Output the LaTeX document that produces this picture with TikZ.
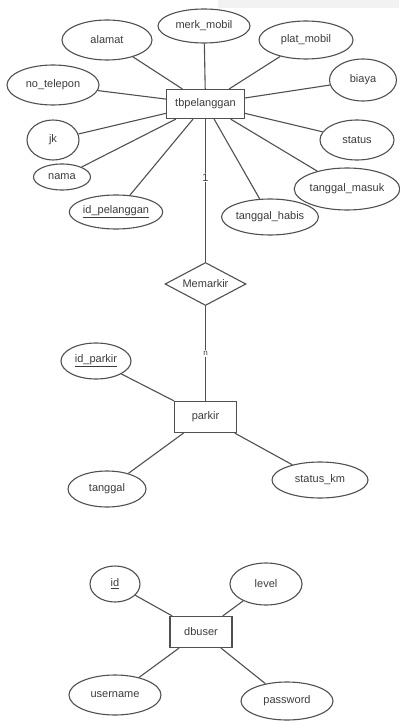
\documentclass[tikz,border=0pt]{standalone}
\usepackage{fontspec}
\setmainfont{Liberation Sans}
\definecolor{erline}{RGB}{80,80,80}
\definecolor{ertext}{RGB}{60,60,60}
\definecolor{bgpatch}{RGB}{242,242,242}
\usetikzlibrary{shapes.geometric}
\tikzset{
	entity/.style={rectangle, draw=erline, line width=1.2pt, fill=white, minimum width=62pt, minimum height=31pt, inner sep=2pt, text=ertext, font=\fontsize{11}{13}\selectfont},
	attr/.style={ellipse, draw=erline, line width=1.1pt, fill=white, inner sep=0pt, text=ertext, font=\fontsize{11}{13}\selectfont},
	rel/.style={diamond, draw=erline, line width=1.1pt, fill=white, aspect=1.9, inner sep=0pt, minimum width=81pt, minimum height=43pt, text=ertext, font=\fontsize{11}{13}\selectfont},
	link/.style={draw=erline, line width=1.1pt},
	card/.style={fill=white, inner sep=1pt, text=ertext, font=\fontsize{11}{12}\selectfont},
}

\begin{document}
\begin{tikzpicture}[x=1pt, y=-1pt]
		\useasboundingbox (0,0) rectangle (399,722);
		\fill[bgpatch] (218,0) rectangle (399,8);
		% tbpelanggan
		\node[entity, minimum width=78pt, minimum height=29pt] (tbpelanggan) at (205.5,104) {tbpelanggan};
		\node[attr, minimum width=90pt, minimum height=40pt] (alamat) at (107,40) {alamat};
		\node[attr, minimum width=92pt, minimum height=34pt] (merk) at (204,26) {merk\_mobil};
		\node[attr, minimum width=94pt, minimum height=38pt] (plat) at (306,40) {plat\_mobil};
		\node[attr, minimum width=67pt, minimum height=42pt] (biaya) at (363,80) {biaya};
		\node[attr, minimum width=92pt, minimum height=40pt] (telepon) at (53,85) {no\_telepon};
		\node[attr, minimum width=52pt, minimum height=40pt] (jk) at (53,140) {jk};
		\node[attr, minimum width=57pt, minimum height=26pt] (nama) at (62,177) {nama};
		\node[attr, minimum width=86pt, minimum height=34pt] (idpel) at (116,212) {\underline{id\_pelanggan}};
		\node[attr, minimum width=94pt, minimum height=36pt] (habis) at (270,217) {tanggal\_habis};
		\node[attr, minimum width=88pt, minimum height=42pt] (masuk) at (347,189) {tanggal\_masuk};
		\node[attr, minimum width=74pt, minimum height=40pt] (status) at (357,140) {status};
		\draw[link] (alamat) -- (tbpelanggan);
		\draw[link] (merk) -- (tbpelanggan);
		\draw[link] (plat) -- (tbpelanggan);
		\draw[link] (biaya) -- (tbpelanggan);
		\draw[link] (telepon) -- (tbpelanggan);
		\draw[link] (jk) -- (tbpelanggan);
		\draw[link] (nama) -- (tbpelanggan);
		\draw[link] (idpel) -- (tbpelanggan);
		\draw[link] (habis) -- (tbpelanggan);
		\draw[link] (masuk) -- (tbpelanggan);
		\draw[link] (status) -- (tbpelanggan);
		% relasi
		\node[rel] (memarkir) at (205.5,284) {Memarkir};
		\node[entity] (parkir) at (205.5,417) {parkir};
		\draw[link] (tbpelanggan) -- node[card, pos=0.41] {1} (memarkir);
		\draw[link] (memarkir) -- node[card, pos=0.5, font=\fontsize{8}{9}\selectfont] {n} (parkir);
		% parkir
		\node[attr, minimum width=70pt, minimum height=36pt] (idparkir) at (96,361) {\underline{id\_parkir}};
		\node[attr, minimum width=78pt, minimum height=36pt] (tanggal) at (107,489) {tanggal};
		\node[attr, minimum width=96pt, minimum height=36pt] (statuskm) at (320,480) {status\_km};
		\draw[link] (idparkir) -- (parkir);
		\draw[link] (tanggal) -- (parkir);
		\draw[link] (statuskm) -- (parkir);
		% dbuser
		\node[entity] (dbuser) at (201,632) {dbuser};
		\node[attr, minimum width=50pt, minimum height=36pt] (id) at (115,584) {\underline{id}};
		\node[attr, minimum width=72pt, minimum height=42pt] (level) at (266,584) {level};
		\node[attr, minimum width=92pt, minimum height=40pt] (username) at (115,695) {username};
		\node[attr, minimum width=92pt, minimum height=38pt] (password) at (287,701) {password};
		\draw[link] (id) -- (dbuser);
		\draw[link] (level) -- (dbuser);
		\draw[link] (username) -- (dbuser);
		\draw[link] (password) -- (dbuser);
	\end{tikzpicture}
\end{document}
